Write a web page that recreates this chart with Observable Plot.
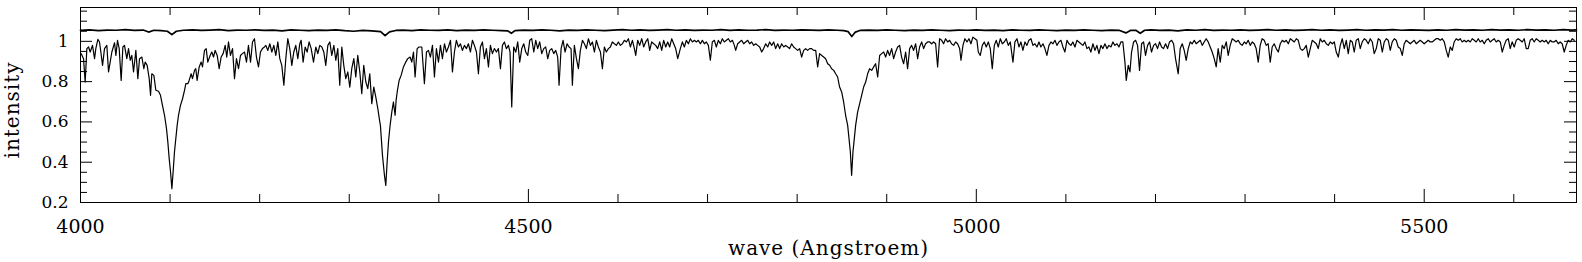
<!DOCTYPE html>
<html><head><meta charset="utf-8">
<script src="https://cdn.jsdelivr.net/npm/d3@7"></script>
<script src="https://cdn.jsdelivr.net/npm/@observablehq/plot@0.6"></script>
<style>body{margin:0;background:#fff} svg{display:block}</style>
</head><body><div id="chart"></div>
<script>
// Spectrum: [wavelength (Angstroem), intensity]
const seg1 = [[4000.8,.939],[4003.4,.914],[4005.2,.798],[4007.1,.964],[4009.0,.972],[4010.8,.947],[4013.4,.980],[4015.7,.914],[4017.1,.964],[4019.4,1.010],
[4021.2,.997],[4022.7,.947],[4024.6,.881],[4026.8,.964],[4029.4,.980],[4031.3,.848],[4033.1,.897],[4035.0,.947],[4038.0,.993],[4039.5,.930],
[4041.3,1.005],[4043.2,.964],[4045.4,.806],[4047.3,.972],[4049.1,.980],[4051.7,.914],[4053.6,.964],[4055.5,.906],[4057.3,.930],[4059.2,.848],
[4061.8,.955],[4064.0,.815],[4065.9,.914],[4068.5,.922],[4070.7,.864],[4072.2,.897],[4074.4,.881],[4076.7,.815],[4078.2,.732],[4079.6,.839],
[4081.9,.831],[4084.1,.757],[4087.1,.752],[4089.3,.732],[4091.5,.682],[4093.8,.633],[4096.0,.567],[4097.5,.500],[4099.0,.418],[4100.5,.352],
[4102.0,.269],[4103.4,.352],[4104.9,.451],[4106.4,.517],[4107.9,.583],[4109.4,.633],[4111.6,.682],[4113.9,.715],[4116.1,.757],[4117.6,.790],
[4119.8,.790],[4121.3,.806],[4123.5,.839],[4125.0,.815],[4127.3,.856],[4128.7,.864],[4130.2,.806],[4132.5,.873],[4134.7,.897],[4136.2,.873],
[4138.4,.955],[4140.3,.964],[4142.1,.897],[4144.7,.930],[4146.6,.947],[4148.5,.922],[4150.3,.955],[4152.6,.930],[4154.8,.864],[4157.0,.922],
[4159.2,.939],[4161.5,.980],[4163.3,.922],[4165.2,.997],[4167.4,.930],[4169.7,.964],[4171.9,.815],[4174.1,.914],[4176.4,.864],[4178.6,.930],
[4180.8,.939],[4183.1,.947],[4185.3,.897],[4187.5,.980],[4189.8,.897],[4192.0,.997],[4194.2,1.013],[4196.4,.922],[4198.7,.873],[4200.9,.947],
[4203.1,.964],[4205.4,.972],[4206.9,.980],[4209.1,.955],[4211.3,.988],[4213.6,.947],[4215.8,.980],[4218.0,.930],[4220.3,.997],[4222.5,.914],
[4224.7,.881],[4227.0,.782],[4229.2,.914],[4231.4,1.013],[4233.6,.964],[4235.9,.881],[4238.1,.947],[4240.3,.980],[4242.6,.914],[4244.8,.988],
[4246.3,1.005],[4248.5,.897],[4250.8,.972],[4253.0,.947],[4255.2,.997],[4257.5,.964],[4260.1,.897],[4262.7,.972],[4264.9,.939],[4267.1,.980],
[4269.4,.972],[4271.6,.947],[4273.8,.881],[4276.1,.980],[4278.3,.997],[4280.5,.930],[4282.8,.980],[4285.0,.906],[4287.2,.964],[4289.4,.782],
[4291.7,.972],[4293.9,.881],[4296.1,.815],[4298.4,.848],[4300.6,.773],[4302.8,.864],[4305.1,.914],[4307.3,.823],[4309.5,.930],[4311.8,.848],
[4314.0,.740],[4316.2,.881],[4318.5,.798],[4320.7,.765],[4322.9,.839],[4325.2,.691],[4327.4,.773],[4329.6,.724],[4331.9,.666],[4334.1,.600]];

const seg2 = [[4334.8,.583],[4337.1,.434],[4339.3,.335],[4340.8,.285],[4342.3,.401],[4343.8,.500],[4345.6,.583],[4347.5,.649],[4349.3,.699],[4351.2,.633],
[4352.3,.707],[4353.8,.757],[4355.7,.806],[4357.9,.831],[4360.5,.873],[4363.1,.897],[4365.3,.914],[4367.9,.922],[4369.8,.897],[4371.7,.947],
[4373.5,.823],[4375.8,.964],[4378.0,.972],[4381.0,.972],[4383.9,.790],[4386.2,.947],[4388.4,.955],[4390.6,.922],[4392.9,.980],[4395.1,.823],
[4397.3,.964],[4399.6,.897],[4401.8,.980],[4404.0,.914],[4406.3,.988],[4408.5,.947],[4410.7,.972],[4413.0,1.005],[4415.2,.848],[4417.4,.947],
[4419.6,1.005],[4421.9,.972],[4424.1,.988],[4426.3,.955],[4428.6,.980],[4430.8,.964],[4433.0,.988],[4435.3,.947],[4437.5,1.005],[4439.7,.980],
[4442.0,.947],[4444.2,.839],[4446.4,.972],[4448.7,.997],[4450.9,.914],[4453.1,.964],[4455.4,.873],[4457.6,.980],[4459.8,.939],[4462.1,.964],
[4464.3,.947],[4466.5,.964],[4468.8,.864],[4471.0,.980],[4473.2,.997],[4475.4,.964],[4477.7,.980],[4479.5,.947],[4481.4,.674],[4483.6,.972],
[4485.9,.947],[4488.1,.997],[4490.3,.897],[4492.6,.964],[4494.8,.988],[4497.0,.947],[4499.3,.930],[4501.5,1.005],[4503.7,1.013],[4506.0,.947],
[4508.2,1.005],[4510.4,.964],[4512.6,.997],[4514.9,.939],[4517.1,.964],[4519.3,.972],[4521.6,.914],[4523.8,.955],[4526.0,.964],[4528.3,.939],
[4530.5,.955],[4532.7,.922],[4534.2,.782],[4536.5,.964],[4538.7,1.005],[4540.9,.947],[4543.2,.988],[4545.4,.972],[4547.6,.964],[4549.1,.782],
[4551.3,.980],[4553.6,.914],[4555.8,.864],[4558.0,.955],[4560.3,1.005],[4562.5,.988],[4564.7,.964],[4567.0,1.013],[4569.2,.980],[4571.4,.997],
[4573.7,.947],[4575.9,1.005],[4578.1,.972],[4580.4,.947],[4582.6,.864],[4584.8,.972],[4587.0,.947],[4589.3,.964],[4591.5,.972],[4593.7,.997],
[4596.0,.988],[4598.2,.980],[4600.4,.997],[4602.7,.980],[4604.9,.988],[4607.1,1.005],[4609.4,.997],[4611.6,1.013],[4613.8,.972],[4616.1,1.005],
[4618.3,.964],[4619.8,.930],[4622.0,1.005],[4624.2,.980],[4626.5,1.013],[4628.7,.972],[4630.9,.997],[4633.2,1.013],[4635.4,.955],[4637.6,.997],
[4639.9,.988],[4642.1,.980],[4644.3,.964],[4646.6,.997],[4648.8,.955],[4651.0,1.005],[4653.3,.972],[4655.5,.997],[4657.7,.972],[4660.0,1.013],
[4662.2,.988],[4664.4,.964],[4666.7,.914]];

const seg3 = [[4669.6,.964],[4671.9,.997],[4674.1,.972],[4676.3,1.005],[4678.6,.988],[4680.8,1.013],[4683.0,.997],[4685.3,1.005],[4687.5,.997],[4689.7,1.005],
[4692.0,.988],[4694.2,1.005],[4696.4,.988],[4698.6,.997],[4700.9,.980],[4703.1,.906],[4705.3,.997],[4707.6,1.005],[4709.8,.972],[4712.0,1.005],
[4714.3,.988],[4716.5,1.013],[4718.7,.997],[4721.0,1.005],[4723.2,1.013],[4725.4,.997],[4727.7,1.005],[4729.9,.980],[4731.4,.955],[4733.6,.988],
[4735.8,.997],[4738.1,1.005],[4740.3,.988],[4742.5,.997],[4744.8,1.005],[4747.0,.988],[4749.2,.997],[4751.5,.980],[4753.7,.988],[4755.9,.980],
[4758.2,.972],[4760.4,.947],[4762.6,.964],[4764.9,.988],[4767.1,.972],[4769.3,.997],[4771.6,.980],[4773.8,.997],[4776.0,.964],[4778.3,.988],
[4780.5,.964],[4782.7,.988],[4785.0,.972],[4787.2,.980],[4789.4,.972],[4791.6,.964],[4793.9,.988],[4796.1,.972],[4798.3,.964],[4800.6,.955],
[4802.8,.964],[4805.0,.922],[4807.3,.955],[4809.5,.964],[4811.7,.955],[4814.0,.964],[4816.2,.964],[4818.4,.955],[4820.7,.955],[4822.9,.873],
[4825.1,.939],[4827.4,.930],[4829.6,.922],[4831.8,.914],[4834.1,.889],[4836.3,.881],[4838.5,.864],[4840.8,.856],[4843.0,.839],[4845.2,.823],
[4847.4,.773],[4849.7,.749],[4851.9,.699],[4854.1,.633],[4856.4,.583],[4857.9,.517],[4859.4,.451],[4860.8,.335],[4862.3,.451],[4863.8,.517],
[4865.3,.583],[4867.5,.649],[4869.8,.691],[4872.0,.732],[4874.2,.773],[4876.5,.798],[4878.7,.839],[4880.9,.864],[4883.2,.856],[4885.4,.873],
[4887.6,.889],[4889.9,.823],[4892.1,.930],[4894.3,.939],[4896.6,.947],[4898.8,.922],[4901.0,.955],[4903.2,.930],[4905.5,.964],[4907.7,.914],
[4909.9,.947],[4912.2,.972],[4914.4,.980],[4916.6,.922],[4918.9,.889],[4921.1,.947],[4923.3,.864],[4925.6,.964],[4927.8,.980],[4930.0,.955],
[4932.3,.988],[4934.5,.914],[4936.7,.972],[4939.0,.997],[4941.2,.964],[4943.4,.988],[4945.7,.997],[4947.9,.997],[4950.1,.988],[4952.4,.997],
[4954.6,.988],[4956.8,.873],[4959.0,1.013],[4961.3,1.005],[4963.5,.988],[4965.7,1.013],[4968.0,.997],[4970.2,1.005],[4972.4,.988],[4974.7,.980],
[4976.9,.997],[4979.1,.988],[4981.4,.964],[4982.9,.906],[4985.1,.980],[4987.3,1.013],[4989.6,.997],[4991.8,1.013],[4994.0,.988],[4996.2,1.021],
[4998.5,1.013],[5000.7,1.005]];

const seg4 = [[5002.2,.947],[5004.4,.930],[5006.7,.980],[5008.9,.997],[5011.1,.972],[5013.4,.997],[5015.6,.964],[5017.8,.864],[5020.1,.980],[5022.3,1.005],
[5024.5,.972],[5026.8,1.013],[5029.0,.988],[5031.2,.997],[5033.4,1.013],[5035.7,.980],[5037.9,.997],[5040.9,.897],[5043.1,.997],[5045.4,1.013],
[5047.6,.972],[5049.8,.997],[5052.0,.955],[5054.3,.997],[5056.5,.980],[5058.7,1.005],[5061.0,1.013],[5063.2,.980],[5065.4,.988],[5067.7,.972],
[5069.9,.997],[5072.1,.972],[5074.4,.988],[5076.6,.964],[5078.8,.930],[5081.1,.980],[5083.3,.997],[5085.5,.988],[5087.8,1.005],[5090.0,.980],
[5092.2,.997],[5094.5,1.005],[5096.7,.972],[5098.9,.947],[5101.2,1.005],[5103.4,.988],[5105.6,.980],[5107.8,.997],[5110.1,.972],[5112.3,1.005],
[5114.5,.997],[5116.8,.988],[5119.0,.980],[5121.2,.997],[5123.5,.964],[5125.7,.972],[5127.9,.947],[5130.2,.988],[5132.4,.955],[5134.6,.980],
[5136.9,.939],[5139.1,.980],[5141.3,.964],[5143.6,.988],[5145.8,.964],[5148.0,.980],[5150.3,.972],[5152.5,.997],[5154.7,.980],[5157.0,.988],
[5159.2,.972],[5161.4,.997],[5163.6,.997],[5165.9,.897],[5167.4,.806],[5169.6,.881],[5171.5,.848],[5173.3,.947],[5175.6,.997],[5177.8,1.005],
[5180.0,.980],[5182.2,.856],[5184.5,.988],[5186.7,.997],[5188.9,.930],[5191.2,.980],[5193.4,.997],[5195.6,.947],[5197.9,.980],[5200.1,.988],
[5202.3,.964],[5204.6,.997],[5206.8,.972],[5209.0,.964],[5211.3,.988],[5213.5,.964],[5215.7,.997],[5218.0,1.005],[5220.2,.988],[5222.4,.914],
[5225.4,.839],[5227.6,.964],[5229.9,.988],[5232.1,.955],[5234.3,.906],[5236.6,.964],[5238.8,.997],[5241.0,.988],[5243.3,1.005],[5245.5,.988],
[5247.7,.997],[5250.0,1.005],[5252.2,.980],[5254.4,.997],[5256.6,1.013],[5258.9,.997],[5261.1,.972],[5263.3,.947],[5265.6,.914],[5267.8,.873],
[5270.0,.964],[5272.3,.897],[5274.5,.980],[5276.7,.964],[5279.0,.997],[5281.2,.930],[5283.4,.980],[5285.7,1.013],[5287.9,1.005],[5290.1,.997],
[5292.4,1.005],[5294.6,.988],[5296.8,.980],[5299.1,.997],[5301.3,.988],[5303.5,1.005],[5305.8,.980],[5308.0,.997],[5310.2,.988],[5312.4,.964],
[5314.7,.897],[5316.9,.980],[5319.1,1.013],[5321.4,1.005],[5323.6,.980],[5325.8,.988],[5328.1,.897],[5330.3,.972],[5332.5,.988],[5334.8,.964]];

const seg5 = [[5337.1,.947],[5339.3,.988],[5341.6,1.005],[5343.8,.997],[5346.0,1.005],[5348.3,.988],[5350.5,1.013],[5352.7,1.005],[5355.0,.997],[5357.2,1.013],
[5359.4,1.005],[5361.7,.964],[5363.9,.955],[5366.1,.964],[5368.3,.980],[5370.6,.922],[5372.8,.964],[5375.0,1.005],[5377.3,.997],[5379.5,.988],
[5381.7,.964],[5384.0,1.013],[5386.2,.997],[5388.4,1.005],[5390.7,.988],[5392.9,.980],[5395.1,.997],[5397.4,.988],[5399.6,.997],[5401.8,.947],
[5404.1,.922],[5406.3,.980],[5408.5,1.013],[5410.8,.964],[5413.0,1.005],[5415.2,.939],[5417.5,1.005],[5419.7,.997],[5421.9,.947],[5424.1,1.005],
[5426.4,1.013],[5428.6,.964],[5430.8,.997],[5433.1,1.013],[5435.3,1.005],[5437.5,.988],[5439.8,1.013],[5442.0,.997],[5444.2,.939],[5446.5,.964],
[5448.7,1.013],[5450.9,1.005],[5453.2,.947],[5455.4,.997],[5457.6,1.013],[5459.9,1.005],[5462.1,.955],[5464.3,.997],[5466.6,1.013],[5468.8,1.005],
[5471.0,.972],[5473.3,.964],[5475.5,.930],[5477.7,.988],[5479.9,1.005],[5482.2,.997],[5484.4,.988],[5486.6,.997],[5488.9,1.005],[5491.1,.988],
[5493.3,.997],[5495.6,1.005],[5497.8,.997],[5500.0,.988],[5502.3,.997],[5504.5,1.005],[5506.7,.997],[5509.0,.997],[5511.2,1.005],[5513.4,1.013],
[5515.7,1.013],[5517.9,1.005],[5520.1,1.013],[5522.4,.997],[5524.6,.955],[5526.8,.922],[5529.1,.972],[5531.3,.955],[5533.5,.997],[5535.7,1.013],
[5538.0,1.005],[5540.2,1.013],[5542.4,.997],[5544.7,1.005],[5546.9,.997],[5549.1,1.005],[5551.4,.997],[5553.6,1.013],[5555.8,1.005],[5558.1,.997],
[5560.3,1.013],[5562.5,.997],[5564.8,1.005],[5567.0,.988],[5569.2,1.005],[5571.5,1.013],[5573.7,.997],[5575.9,1.005],[5578.2,1.013],[5580.4,.997],
[5582.6,1.005],[5584.9,.997],[5587.1,.947],[5589.3,.980],[5591.5,1.005],[5593.8,1.013],[5596.0,.964],[5598.2,.997],[5600.5,.972],[5602.7,1.005],
[5604.9,1.013],[5607.2,1.005],[5609.4,.997],[5611.6,1.013],[5613.9,.964],[5616.1,.964],[5618.3,1.005],[5620.6,1.013],[5622.8,.997],[5625.0,1.013],
[5627.3,1.005],[5629.5,.997],[5631.7,1.005],[5634.0,.997],[5636.2,1.005],[5638.4,.988],[5640.7,1.005],[5642.9,.997],[5645.1,.997],[5647.3,1.005],
[5649.6,.988],[5651.8,.997],[5654.0,.988],[5656.3,.947],[5658.5,.980],[5660.7,1.005],[5663.0,.997],[5665.2,1.013],[5667.4,1.005]];

// Upper (nearly flat) spectrum
const upper = [[4000,1.054],[4010,1.057],[4020,1.053],[4030,1.056],[4040,1.055],[4050,1.058],[4060,1.054],[4070,1.056],[4076,1.046],[4082,1.055],
[4090,1.053],[4097,1.050],[4102,1.033],[4107,1.050],[4115,1.055],[4125,1.057],[4135,1.054],[4145,1.056],[4155,1.058],[4165,1.053],
[4175,1.056],[4185,1.055],[4195,1.057],[4205,1.054],[4215,1.056],[4225,1.052],[4235,1.057],[4245,1.055],[4255,1.053],[4265,1.056],
[4275,1.054],[4285,1.057],[4295,1.053],[4305,1.050],[4315,1.054],[4325,1.052],[4335,1.048],[4340,1.028],[4345,1.047],[4352,1.054],
[4360,1.056],[4370,1.053],[4380,1.057],[4390,1.055],[4400,1.054],[4410,1.057],[4420,1.053],[4430,1.056],[4440,1.054],[4450,1.057],
[4460,1.055],[4470,1.053],[4477,1.052],[4481,1.040],[4485,1.053],[4495,1.056],[4505,1.054],[4515,1.057],[4525,1.055],[4535,1.052],
[4545,1.056],[4555,1.054],[4565,1.057],[4575,1.055],[4585,1.053],[4595,1.056],[4605,1.058],[4615,1.055],[4625,1.057],[4635,1.054],
[4645,1.056],[4655,1.058],[4665,1.055],[4675,1.057],[4685,1.054],[4695,1.056],[4705,1.055],[4715,1.058],[4725,1.054],[4735,1.057],
[4745,1.055],[4755,1.056],[4765,1.058],[4775,1.054],[4785,1.056],[4795,1.055],[4805,1.057],[4815,1.056],[4825,1.054],[4835,1.057],
[4845,1.055],[4852,1.053],[4857,1.048],[4861,1.024],[4865,1.046],[4870,1.054],[4880,1.056],[4890,1.054],[4900,1.057],[4910,1.055],
[4920,1.053],[4930,1.056],[4940,1.054],[4950,1.057],[4960,1.055],[4970,1.053],[4980,1.056],[4990,1.055],[5000,1.057],[5010,1.054],
[5020,1.056],[5030,1.053],[5040,1.057],[5050,1.055],[5060,1.054],[5070,1.057],[5080,1.055],[5090,1.053],[5100,1.056],[5110,1.054],
[5120,1.057],[5130,1.055],[5140,1.053],[5150,1.056],[5160,1.054],[5167,1.042],[5172,1.054],[5178,1.055],[5183,1.040],[5188,1.055],
[5195,1.057],[5205,1.054],[5215,1.056],[5225,1.052],[5235,1.057],[5245,1.055],[5255,1.058],[5265,1.054],[5275,1.056],[5285,1.055],
[5295,1.057],[5305,1.054],[5315,1.056],[5325,1.058],[5335,1.055],[5345,1.057],[5355,1.054],[5365,1.056],[5375,1.058],[5385,1.055],
[5395,1.057],[5405,1.054],[5415,1.056],[5425,1.058],[5435,1.055],[5445,1.057],[5455,1.056],[5465,1.058],[5475,1.055],[5485,1.057],
[5495,1.056],[5505,1.054],[5515,1.057],[5525,1.055],[5535,1.058],[5545,1.056],[5555,1.057],[5565,1.055],[5575,1.058],[5585,1.056],
[5595,1.057],[5605,1.055],[5615,1.058],[5625,1.056],[5635,1.057],[5645,1.055],[5655,1.058],[5665,1.056],[5670,1.057]];

const xMajor = [4000, 4500, 5000, 5500];
const xMinor = [4100, 4200, 4300, 4400, 4600, 4700, 4800, 4900, 5100, 5200, 5300, 5400, 5600];
const yMajor = [0.2, 0.4, 0.6, 0.8, 1.0];
const yMinor = [0.25, 0.3, 0.35, 0.45, 0.5, 0.55, 0.65, 0.7, 0.75, 0.85, 0.9, 0.95, 1.05, 1.1, 1.15];
const xTitle = "wave (Angstroem)";
const yTitle = "intensity";

const W = 1582, H = 262, mL = 80, mR = 6, mT = 7, mB = 60;
const fw = W - mL - mR, fh = H - mT - mB;
const toRows = s => s.map(([w, f]) => ({w, f}));
const lowerRows = [seg1, seg2, seg3, seg4, seg5].flatMap(toRows);
const upperRows = toRows(upper);

const chart = Plot.plot({
  width: W, height: H,
  marginLeft: mL, marginRight: mR, marginTop: mT, marginBottom: mB,
  style: {fontFamily: "DejaVu Serif", background: "#fff", color: "#000"},
  x: {domain: [4000, 5670]},
  y: {domain: [0.2, 1.168]},
  marks: [
    Plot.line(upperRows, {x: "w", y: "f", stroke: "#000", strokeWidth: 1.7}),
    Plot.line(lowerRows, {x: "w", y: "f", stroke: "#000", strokeWidth: 1.2}),
    Plot.tickX(xMajor, {x: d => d, insetTop: fh - 13, stroke: "#000"}),
    Plot.tickX(xMajor, {x: d => d, insetBottom: fh - 13, stroke: "#000"}),
    Plot.tickX(xMinor, {x: d => d, insetTop: fh - 8, stroke: "#000"}),
    Plot.tickX(xMinor, {x: d => d, insetBottom: fh - 8, stroke: "#000"}),
    Plot.tickY(yMajor, {y: d => d, insetRight: fw - 12, stroke: "#000"}),
    Plot.tickY(yMajor, {y: d => d, insetLeft: fw - 12, stroke: "#000"}),
    Plot.tickY(yMinor, {y: d => d, insetRight: fw - 7, stroke: "#000"}),
    Plot.tickY(yMinor, {y: d => d, insetLeft: fw - 7, stroke: "#000"}),
    Plot.frame({stroke: "#000", strokeWidth: 1}),
    Plot.axisX(xMajor, {tickSize: 0, tickPadding: 17, fontSize: 19, label: null, tickFormat: d => String(d)}),
    Plot.axisY(yMajor, {tickSize: 0, tickPadding: 12, fontSize: 17, label: null, tickFormat: d => String(d)}),
    Plot.text([xTitle], {text: d => d, frameAnchor: "bottom", dy: 52, fontSize: 20, fill: "#000"}),
    Plot.text([yTitle], {text: d => d, frameAnchor: "left", textAnchor: "middle", rotate: -90, dx: -68, dy: 5, fontSize: 20, fill: "#000"})
  ]
});
d3.select(chart).selectAll("text").filter(function() { return this.textContent === xTitle || this.textContent === yTitle; }).style("letter-spacing", "1px");
document.getElementById("chart").appendChild(chart);
</script>
</body></html>
